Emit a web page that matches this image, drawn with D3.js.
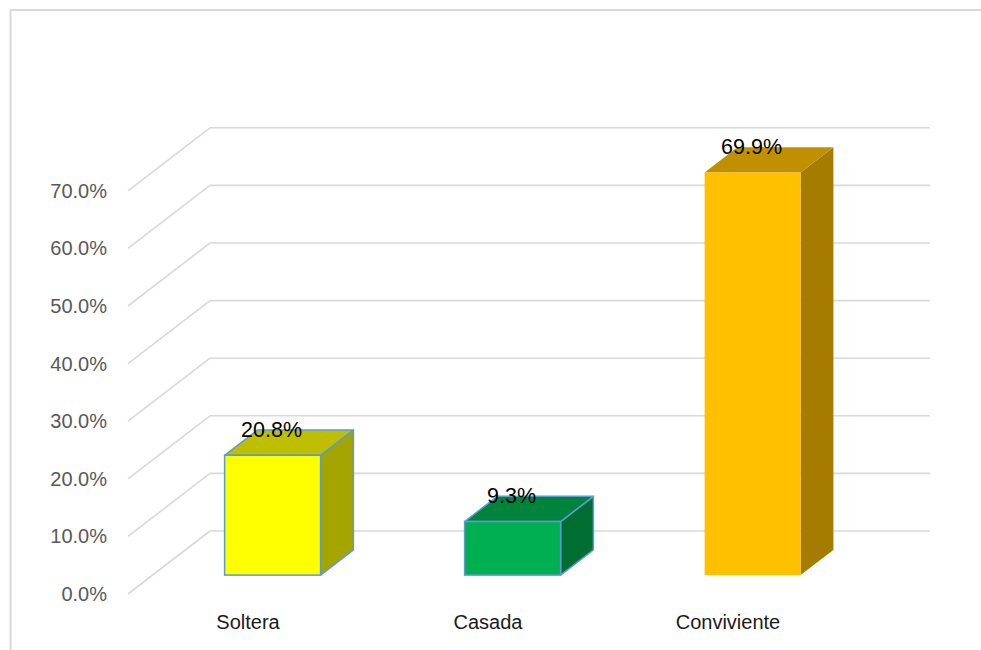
<!DOCTYPE html>
<html>
<head>
<meta charset="utf-8">
<script src="https://cdn.jsdelivr.net/npm/d3@7"></script>
<style>
  html, body { margin: 0; padding: 0; background: #fff; }
  svg { display: block; font-family: "Liberation Sans", Arial, sans-serif; }
</style>
</head>
<body>
<svg id="chart" width="981" height="650"></svg>
<script>
const categories = ["Soltera", "Casada", "Conviviente"];
const values = [20.8, 9.3, 69.9];
const valueLabels = ["20.8%", "9.3%", "69.9%"];
const tickValues = [0, 10, 20, 30, 40, 50, 60, 70];
const tickLabels = ["0.0%", "10.0%", "20.0%", "30.0%", "40.0%", "50.0%", "60.0%", "70.0%"];
const frontColors = ["#FFFF00", "#00B050", "#FFC000"];
const topColors = ["#BFBF00", "#00843C", "#BF9000"];
const sideColors = ["#A5A500", "#006E30", "#A67C00"];
const outlineColors = ["#5B9BD5", "#5B9BD5", "none"];

const svg = d3.select("#chart");

// frame
svg.append("rect").attr("x", 10.5).attr("y", 10).attr("width", 1000).attr("height", 700)
  .attr("fill", "none").attr("stroke", "#D9D9D9").attr("stroke-width", 2);

// 3D geometry
const DX = 82, DY = -63;           // full depth offset
const d0 = 0.3, d1 = 0.7;          // bar depth range

const x = d3.scaleBand().domain(categories).range([128, 848]).paddingInner(0.6).paddingOuter(0.3);
const y = d3.scaleLinear().domain([0, 70]).range([594, 190.8]);

// gridlines
const g = svg.append("g");
tickValues.forEach(v => {
  g.append("line").attr("x1", 128).attr("y1", y(v)).attr("x2", 128 + DX).attr("y2", y(v) + DY)
    .attr("stroke", "#D9D9D9").attr("stroke-width", 1.6);
  g.append("line").attr("x1", 128 + DX).attr("y1", y(v) + DY).attr("x2", 848 + DX).attr("y2", y(v) + DY)
    .attr("stroke", "#D9D9D9").attr("stroke-width", 1.6);
});

// y tick labels
svg.append("g").selectAll("text").data(tickValues).join("text")
  .attr("x", 107).attr("y", d => y(d) + 7)
  .attr("text-anchor", "end").attr("font-size", 20).attr("fill", "#595959")
  .text((d, i) => tickLabels[i]);

// bars
const bars = svg.append("g");
categories.forEach((c, i) => {
  const v = values[i];
  const bx = x(c), bw = x.bandwidth();
  const fx0 = bx + DX * d0, fx1 = fx0 + bw;
  const fyB = y(0) + DY * d0, fyT = y(v) + DY * d0;
  const ox = DX * (d1 - d0), oy = DY * (d1 - d0);
  const st = outlineColors[i];
  const sw = st === "none" ? 0 : 1.5;
  // side
  bars.append("path")
    .attr("d", `M${fx1},${fyB} L${fx1 + ox},${fyB + oy} L${fx1 + ox},${fyT + oy} L${fx1},${fyT} Z`)
    .attr("fill", sideColors[i]).attr("stroke", st).attr("stroke-width", sw).attr("stroke-linejoin", "round");
  // top
  bars.append("path")
    .attr("d", `M${fx0},${fyT} L${fx1},${fyT} L${fx1 + ox},${fyT + oy} L${fx0 + ox},${fyT + oy} Z`)
    .attr("fill", topColors[i]).attr("stroke", st).attr("stroke-width", sw).attr("stroke-linejoin", "round");
  // front
  bars.append("rect")
    .attr("x", fx0).attr("y", fyT).attr("width", bw).attr("height", fyB - fyT)
    .attr("fill", frontColors[i]).attr("stroke", st).attr("stroke-width", sw);
  // value label
  bars.append("text")
    .attr("x", fx0 + bw / 2 - 1).attr("y", y(v) + DY * d1 + 7)
    .attr("text-anchor", "middle").attr("font-size", 21.5).attr("fill", "#000")
    .text(valueLabels[i]);
});

// category labels
svg.append("g").selectAll("text").data(categories).join("text")
  .attr("x", d => x(d) + x.bandwidth() / 2).attr("y", 629)
  .attr("text-anchor", "middle").attr("font-size", 20).attr("fill", "#1a1a1a")
  .text(d => d);
</script>
</body>
</html>
